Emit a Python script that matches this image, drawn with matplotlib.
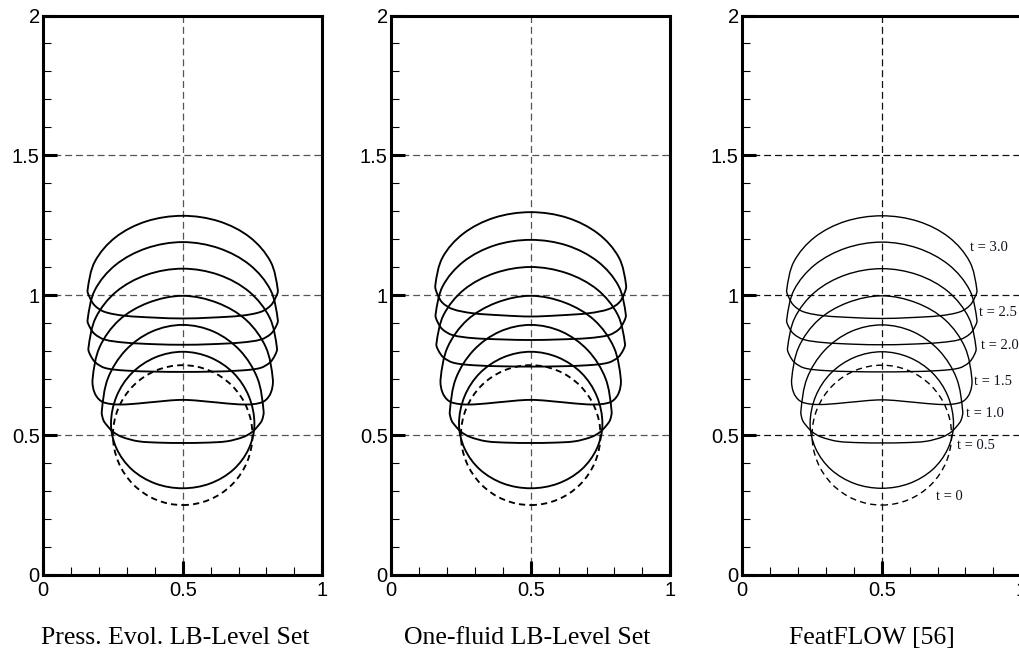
import math
import matplotlib
matplotlib.use("Agg")
import matplotlib.pyplot as plt
from matplotlib.path import Path
from matplotlib.patches import PathPatch, Circle
from matplotlib.ticker import MultipleLocator, FixedLocator, FixedFormatter

plt.rcParams['lines.scale_dashes'] = False

# ---------------- data ----------------
panel_titles = ["Press. Evol. LB-Level Set", "One-fluid LB-Level Set", "FeatFLOW [56]"]
x_major = [0, 0.5, 1]
x_labels = ["0", "0.5", "1"]
y_major = [0, 0.5, 1, 1.5, 2]
y_labels = ["0", "0.5", "1", "1.5", "2"]
minor_step = 0.1

# initial bubble (t = 0), dashed circle
t0_center = (0.5, 0.5)
t0_radius = 0.25

# right halves of the bubble contours: offset from x = 0.5, and y (top -> bottom)
t05_dx = [0, 0.098, 0.182, 0.237, 0.257, 0.237, 0.182, 0.098, 0]
t05_y = [0.798, 0.778, 0.722, 0.639, 0.540, 0.452, 0.377, 0.327, 0.310]
t10_dx = [0, 0.111, 0.205, 0.268, 0.290, 0.284, 0.270, 0.250, 0.219, 0.159, 0.080, 0]
t10_y = [0.894, 0.870, 0.803, 0.703, 0.585, 0.553, 0.533, 0.512, 0.494, 0.478, 0.473, 0.472]
t15_dx = [0, 0.124, 0.228, 0.298, 0.323, 0.316, 0.293, 0.255, 0.200, 0.120, 0]
t15_y = [0.998, 0.973, 0.911, 0.814, 0.700, 0.652, 0.622, 0.611, 0.610, 0.617, 0.626]
t20_dx = [0, 0.129, 0.239, 0.312, 0.338, 0.331, 0.313, 0.278, 0.208, 0.100, 0]
t20_y = [1.095, 1.073, 1.012, 0.919, 0.810, 0.786, 0.760, 0.740, 0.731, 0.727, 0.726]
t25_dx = [0, 0.130, 0.241, 0.315, 0.341, 0.334, 0.316, 0.281, 0.210, 0.100, 0]
t25_y = [1.190, 1.168, 1.108, 1.018, 0.911, 0.888, 0.862, 0.842, 0.831, 0.825, 0.823]
t30_dx = [0, 0.131, 0.241, 0.315, 0.341, 0.334, 0.316, 0.281, 0.210, 0.100, 0]
t30_y = [1.284, 1.264, 1.207, 1.120, 1.018, 0.994, 0.964, 0.941, 0.927, 0.920, 0.917]

# the one-fluid run (middle panel) rises slightly further at late times
t20b_dx = [0, 0.129, 0.239, 0.312, 0.338, 0.331, 0.313, 0.278, 0.208, 0.100, 0]
t20b_y = [1.101, 1.079, 1.020, 0.930, 0.826, 0.803, 0.778, 0.759, 0.750, 0.746, 0.745]
t25b_dx = [0, 0.130, 0.241, 0.315, 0.341, 0.334, 0.316, 0.281, 0.210, 0.100, 0]
t25b_y = [1.198, 1.178, 1.120, 1.033, 0.930, 0.905, 0.878, 0.858, 0.847, 0.842, 0.840]
t30b_dx = [0, 0.131, 0.242, 0.316, 0.342, 0.335, 0.317, 0.281, 0.210, 0.100, 0]
t30b_y = [1.297, 1.277, 1.220, 1.135, 1.035, 1.005, 0.974, 0.951, 0.936, 0.928, 0.924]

panel_contours = [
    [(t05_dx, t05_y), (t10_dx, t10_y), (t15_dx, t15_y),
     (t20_dx, t20_y), (t25_dx, t25_y), (t30_dx, t30_y)],
    [(t05_dx, t05_y), (t10_dx, t10_y), (t15_dx, t15_y),
     (t20b_dx, t20b_y), (t25b_dx, t25b_y), (t30b_dx, t30b_y)],
    [(t05_dx, t05_y), (t10_dx, t10_y), (t15_dx, t15_y),
     (t20_dx, t20_y), (t25_dx, t25_y), (t30_dx, t30_y)],
]
axis_x = 0.5

time_labels = ["t = 3.0", "t = 2.5", "t = 2.0", "t = 1.5", "t = 1.0", "t = 0.5", "t = 0"]
time_label_x = [0.817, 0.850, 0.857, 0.832, 0.803, 0.768, 0.693]
time_label_y = [1.169, 0.938, 0.820, 0.692, 0.577, 0.464, 0.282]


def closed_smooth_path(dx, y, cx):
    # full closed contour: right half then mirrored left half, drawn as a
    # smooth Bezier path through the read-off points
    xs = [cx + d for d in dx] + [cx - d for d in dx[-2:0:-1]]
    ys = list(y) + list(y[-2:0:-1])
    n = len(xs)

    def tangent(i):
        a = (xs[(i + 1) % n] - xs[i - 1], ys[(i + 1) % n] - ys[i - 1])
        L = math.hypot(*a) or 1.0
        return (a[0] / L, a[1] / L)

    verts = [(xs[0], ys[0])]
    codes = [Path.MOVETO]
    for i in range(n):
        j = (i + 1) % n
        seg = math.hypot(xs[j] - xs[i], ys[j] - ys[i])
        t1 = tangent(i)
        t2 = tangent(j)
        c1 = (xs[i] + t1[0] * seg / 3, ys[i] + t1[1] * seg / 3)
        c2 = (xs[j] - t2[0] * seg / 3, ys[j] - t2[1] * seg / 3)
        verts += [c1, c2, (xs[j], ys[j])]
        codes += [Path.CURVE4] * 3
    return Path(verts, codes)


# ---------------- figure ----------------
W, H = 1020, 652
fig = plt.figure(figsize=(W / 100, H / 100), dpi=100)

panel_left_px = [43.2, 391.2, 742.3]
panel_top_px = 15.5
panel_bottom_px = 575.0
panel_w_px = 279.0
caption_cx_px = [175.5, 527.0, 872.0]
caption_base_px = 644.0

grid_colors = ["#555555", "#555555", "#111111"]
contour_lw = [1.35, 1.35, 1.0]

for k in range(3):
    ax = fig.add_axes([panel_left_px[k] / W, (H - panel_bottom_px) / H,
                       panel_w_px / W, (panel_bottom_px - panel_top_px) / H])
    ax.set_xlim(0, 1)
    ax.set_ylim(0, 2)
    ax.set_facecolor("white")

    ax.xaxis.set_major_locator(FixedLocator(x_major))
    ax.xaxis.set_major_formatter(FixedFormatter(x_labels))
    ax.yaxis.set_major_locator(FixedLocator(y_major))
    ax.yaxis.set_major_formatter(FixedFormatter(y_labels))
    ax.xaxis.set_minor_locator(MultipleLocator(minor_step))
    ax.yaxis.set_minor_locator(MultipleLocator(minor_step))

    ax.tick_params(which="major", direction="in", length=10, width=2.2, color="black",
                   top=False, right=False, labelsize=14.5)
    ax.tick_params(axis="x", which="major", pad=4)
    ax.tick_params(axis="y", which="major", pad=2.5)
    ax.tick_params(which="minor", direction="in", length=5.5, width=0.8, color="black",
                   top=False, right=False)
    for lab in ax.get_xticklabels() + ax.get_yticklabels():
        lab.set_family("Liberation Sans")

    for s in ax.spines.values():
        s.set_linewidth(2.2)
        s.set_color("black")
        s.set_zorder(5)

    ax.grid(True, which="major", color=grid_colors[k], linewidth=0.9,
            linestyle=(0, (5.0, 2.8)), zorder=0)

    # t = 0 dashed circle
    circ = Circle(t0_center, t0_radius, transform=ax.transData, fill=False,
                  edgecolor="black", linewidth=contour_lw[k], linestyle=(0, (4.5, 3.0)),
                  zorder=2)
    ax.add_patch(circ)

    for dx, yy in panel_contours[k]:
        path = closed_smooth_path(dx, yy, axis_x)
        ax.add_patch(PathPatch(path, fill=False, edgecolor="black",
                               linewidth=contour_lw[k], zorder=3))

    if k == 2:
        for txt, tx, ty in zip(time_labels, time_label_x, time_label_y):
            ax.text(tx, ty, txt, ha="left", va="center", fontsize=10.5,
                    family="Liberation Serif", color="#111122", clip_on=False, zorder=6)

    fig.text(caption_cx_px[k] / W, 1 - caption_base_px / H, panel_titles[k],
             ha="center", va="baseline", fontsize=18.5, family="Liberation Serif")

fig.savefig("out.png", dpi=100, facecolor="white")
